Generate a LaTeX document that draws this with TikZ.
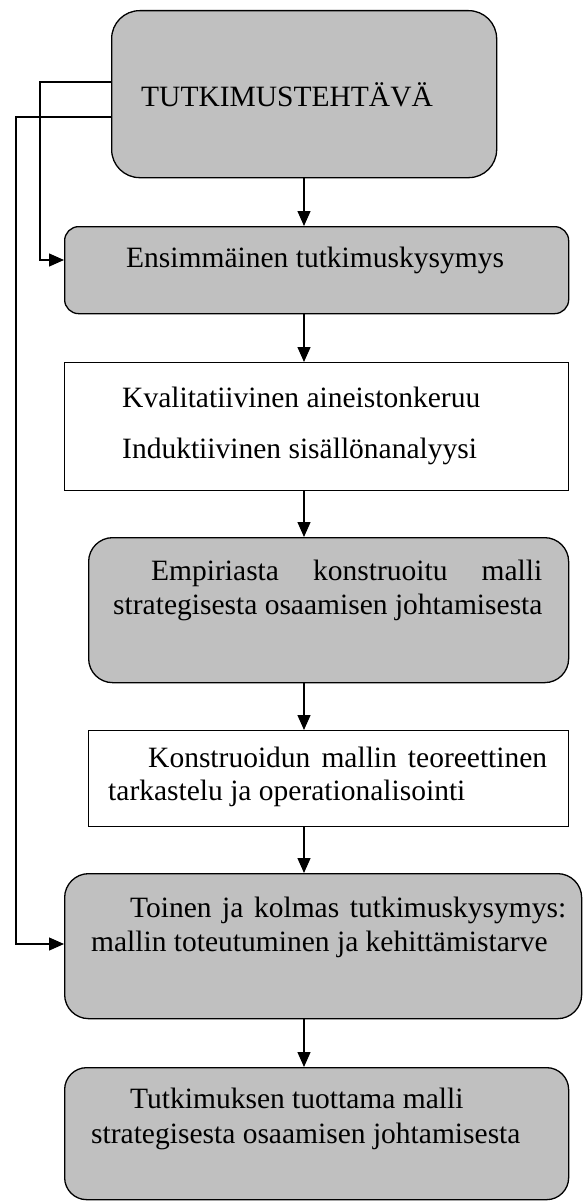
\documentclass[tikz,border=0pt]{standalone}
\usepackage{fontspec}
\setmainfont{Liberation Serif}
\usetikzlibrary{arrows.meta}
\definecolor{boxgray}{HTML}{C0C0C0}
\tikzset{
  box/.style={draw=black, line width=1.3pt, inner sep=0pt, anchor=north west},
  grey/.style={box, fill=boxgray},
  plain/.style={box, fill=white},
  txt/.style={anchor=base west, inner sep=0pt, font=\fontsize{29.5pt}{35pt}\selectfont},
  arr/.style={draw=black, line width=1.3pt, -{Triangle[length=15pt,width=13pt]}}
}
\begin{document}
\begin{tikzpicture}[x=1pt, y=-1pt]
  \useasboundingbox (0,0) rectangle (582,1204);

  % boxes (top-left corner, width, height)
  \node[grey, rounded corners=28pt, minimum width=385pt, minimum height=167pt] (b1) at (111,10) {};
  \node[grey, rounded corners=14pt, minimum width=504pt, minimum height=87pt] (b2) at (64,226) {};
  \node[plain, minimum width=504pt, minimum height=128pt] (b3) at (64,362) {};
  \node[grey, rounded corners=24pt, minimum width=480pt, minimum height=145pt] (b4) at (88,537) {};
  \node[plain, minimum width=480pt, minimum height=96pt] (b5) at (88,730) {};
  \node[grey, rounded corners=24pt, minimum width=517pt, minimum height=145pt] (b6) at (64,873) {};
  \node[grey, rounded corners=22pt, minimum width=504pt, minimum height=132pt] (b7) at (64,1067) {};

  % texts
  \node[txt] (t1) at (141,107) {TUTKIMUSTEHTÄVÄ};
  \node[txt] (t2) at (126,267) {Ensimmäinen tutkimuskysymys};
  \node[txt] (t3a) at (122,407) {Kvalitatiivinen aineistonkeruu};
  \node[txt] (t3b) at (122,458) {Induktiivinen sisällönanalyysi};
  \node[txt] (t4a) at (151,580) {\makebox[391pt][s]{Empiriasta konstruoitu malli}};
  \node[txt] (t4b) at (113,614) {strategisesta osaamisen johtamisesta};
  \node[txt] (t5a) at (148,767) {\makebox[399pt][s]{Konstruoidun mallin teoreettinen}};
  \node[txt] (t5b) at (108,800) {tarkastelu ja operationalisointi};
  \node[txt] (t6a) at (130,917) {\makebox[436pt][s]{Toinen ja kolmas tutkimuskysymys:}};
  \node[txt] (t6b) at (91,951) {mallin toteutuminen ja kehittämistarve};
  \node[txt] (t7a) at (130,1108) {Tutkimuksen tuottama malli};
  \node[txt] (t7b) at (91,1143) {strategisesta osaamisen johtamisesta};

  % main vertical flow
  \coordinate (ax) at (304,0);
  \draw[arr] (b1.south -| ax) -- (b2.north -| ax);
  \draw[arr] (b2.south -| ax) -- (b3.north -| ax);
  \draw[arr] (b3.south -| ax) -- (b4.north -| ax);
  \draw[arr] (b4.south -| ax) -- (b5.north -| ax);
  \draw[arr] (b5.south -| ax) -- (b6.north -| ax);
  \draw[arr] (b6.south -| ax) -- (b7.north -| ax);

  % feedback connectors on the left
  \coordinate (k1) at (40,82);
  \coordinate (k2) at (40,260);
  \coordinate (m1) at (16,117);
  \coordinate (m2) at (16,944);
  \draw[arr] (b1.west |- k1) -- (k1) -- (k2) -- (b2.west |- k2);
  \draw[arr] (b1.west |- m1) -- (m1) -- (m2) -- (b6.west |- m2);
\end{tikzpicture}
\end{document}
